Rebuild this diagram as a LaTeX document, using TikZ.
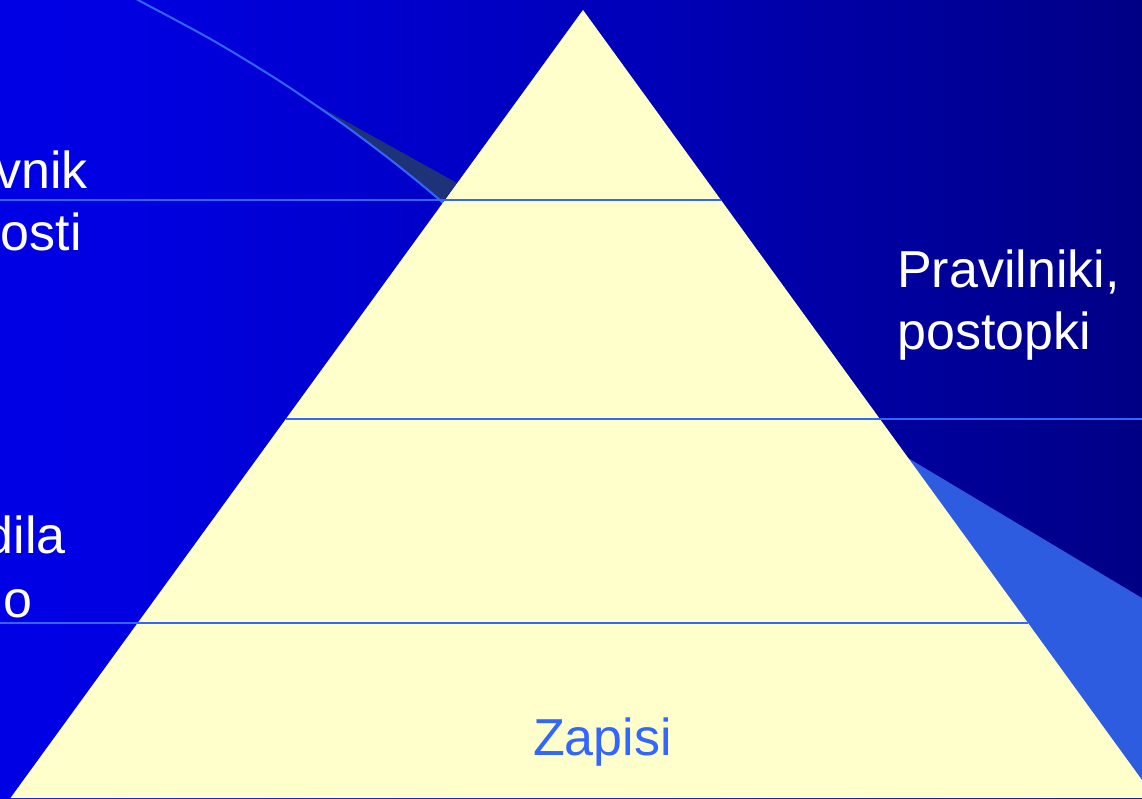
\documentclass[tikz,border=0pt]{standalone}
\usepackage{fontspec}
\setmainfont{Liberation Sans}
\definecolor{bgL}{HTML}{0000F5}
\definecolor{bgA}{HTML}{0000E2}
\definecolor{bgM}{HTML}{0000B4}
\definecolor{bgR}{HTML}{00004A}
\definecolor{pyr}{HTML}{FFFFCC}
\definecolor{lineblue}{HTML}{3366FF}
\definecolor{darkwedge}{HTML}{1E3278}
\definecolor{lightwedge}{HTML}{2E5CE0}
\pgfdeclarehorizontalshading{bgshade}{100bp}{color(0bp)=(bgL); color(30bp)=(bgA); color(55bp)=(bgM); color(100bp)=(bgR)}
\tikzset{
  sepline/.style={draw=lineblue, line width=2pt},
  wtxt/.style={text=white, inner sep=0pt, font=\fontsize{52}{62}\selectfont},
  btxt/.style={text=lineblue, inner sep=0pt, font=\fontsize{52}{62}\selectfont},
}
\begin{document}
\begin{tikzpicture}[x=1pt,y=-1pt]
\useasboundingbox (0,0) rectangle (1142,798);
% background
\shade[shading=bgshade] (0,0) rectangle (1142,798);
% dark wedge beside arc
\fill[darkwedge] plot[smooth] coordinates {(311,102) (337.1,120) (364.5,140) (390.8,160) (415.9,180) (439.9,200) (442.3,202)} -- (457,183) -- cycle;
% light wedge at right
\fill[lightwedge] (908,458) -- (1142,598) -- (1142,782) -- cycle;
% arc
\draw[sepline] plot[smooth] coordinates {(128,-5) (138,0) (212.2,40) (278,80) (337.1,120) (364.5,140) (390.8,160) (415.9,180) (439.9,200) (445.8,205)};
% pyramid
\coordinate (apex) at (583,10);
\coordinate (bl) at (10.5,798);
\coordinate (br) at (1155,798);
\fill[pyr] (apex) -- (br) -- (bl) -- cycle;
% separator lines
\coordinate (l1a) at (0,200);   \coordinate (l1b) at (721,200);
\coordinate (l2a) at (286,419); \coordinate (l2b) at (1142,419);
\coordinate (l3a) at (0,623);   \coordinate (l3b) at (1028,623);
\draw[sepline] (l1a) -- (l1b);
\draw[sepline] (l2a) -- (l2b);
\draw[sepline] (l3a) -- (l3b);
% texts
\node[wtxt, anchor=base east] (t1) at (88,188) {vnik};
\node[wtxt, anchor=base east] (t2) at (82,250) {osti};
\node[wtxt, anchor=base west] (t3) at (897,287) {Pravilniki,};
\node[wtxt, anchor=base west] (t4) at (897,349) {postopki};
\node[wtxt, anchor=base east] (t5) at (66,553) {dila};
\node[wtxt, anchor=base east] (t6) at (33,617) {o};
\node[btxt, anchor=base] (t7) at (602.5,755) {Zapisi};
\end{tikzpicture}
\end{document}
